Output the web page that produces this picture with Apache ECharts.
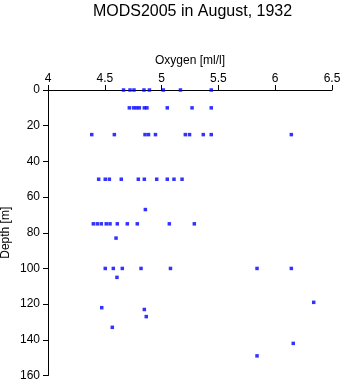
<!DOCTYPE html>
<html>
<head>
<meta charset="utf-8">
<script src="https://cdn.jsdelivr.net/npm/echarts@6/dist/echarts.min.js"></script>
<style>
  html, body { margin: 0; padding: 0; background: #fff; }
  #chart { width: 343px; height: 384px; }
</style>
</head>
<body>
<div id="chart"></div>
<script>
// Oxygen profile samples: each measurement is (oxygen [ml/l], depth [m])
const oxygen = [
  // 0 m
  4.665, 4.722, 4.757, 4.845, 4.893, 5.015, 5.166, 5.437,
  // 10 m
  4.716, 4.753, 4.779, 4.804, 4.848, 4.871, 5.050, 5.268, 5.437,
  // 25 m
  4.385, 4.584, 4.854, 4.885, 4.946, 5.209, 5.246, 5.367, 5.437, 6.142,
  // 50 m
  4.446, 4.504, 4.540, 4.645, 4.795, 4.848, 4.957, 5.050, 5.109, 5.180,
  // 67 m
  4.857,
  // 75 m
  4.399, 4.434, 4.469, 4.513, 4.546, 4.610, 4.698, 4.786, 5.068, 5.288,
  // 83 m
  4.599,
  // 100 m
  4.504, 4.575, 4.654, 4.819, 5.078, 5.840, 6.142,
  // deeper casts
  4.607, 4.473, 4.566, 4.848, 4.865, 5.840, 6.159, 6.339
];
const depth = [
  0, 0, 0, 0, 0, 0, 0, 0,
  10, 10, 10, 10, 10, 10, 10, 10, 10,
  25, 25, 25, 25, 25, 25, 25, 25, 25, 25,
  50, 50, 50, 50, 50, 50, 50, 50, 50, 50,
  67,
  75, 75, 75, 75, 75, 75, 75, 75, 75, 75,
  83,
  100, 100, 100, 100, 100, 100, 100,
  105, 122, 133, 123, 127, 149, 142, 119
];

const xTicks = { min: 4, max: 6.5, step: 0.5 };
const yTicks = { min: 0, max: 160, step: 20 };

const points = oxygen.map((v, i) => [v, depth[i]]);

const font = 'Liberation Sans, Arial, sans-serif';
const chart = echarts.init(document.getElementById('chart'), null, { renderer: 'canvas' });
chart.setOption({
  animation: false,
  backgroundColor: '#ffffff',
  title: {
    text: 'MODS2005 in August, 1932',
    left: 187.5,
    textAlign: 'center',
    top: -1,
    textStyle: { fontFamily: font, fontSize: 16, fontWeight: 'normal', color: '#000' }
  },
  grid: { left: 48, top: 90, width: 284, height: 285.5, outerBoundsMode: 'none', containLabel: false },
  xAxis: {
    type: 'value',
    position: 'top',
    min: xTicks.min,
    max: xTicks.max,
    interval: xTicks.step,
    name: 'Oxygen [ml/l]',
    nameLocation: 'middle',
    nameGap: 23,
    nameMoveOverlap: false,
    nameTextStyle: { fontFamily: font, fontSize: 12, color: '#000' },
    axisLine: { show: true, onZero: false, lineStyle: { color: '#000', width: 1 } },
    axisTick: { show: true, length: 5, lineStyle: { color: '#000' } },
    axisLabel: { fontFamily: font, fontSize: 12, color: '#000', margin: 5 },
    splitLine: { show: false }
  },
  yAxis: {
    type: 'value',
    inverse: true,
    min: yTicks.min,
    max: yTicks.max,
    interval: yTicks.step,
    name: 'Depth [m]',
    nameLocation: 'middle',
    nameGap: 36,
    nameMoveOverlap: false,
    nameTextStyle: { fontFamily: font, fontSize: 12, color: '#000' },
    axisLine: { show: true, onZero: false, lineStyle: { color: '#000', width: 1 } },
    axisTick: { show: true, length: 5, lineStyle: { color: '#000' } },
    axisLabel: { fontFamily: font, fontSize: 12, color: '#000', margin: 8 },
    splitLine: { show: false }
  },
  series: [{
    type: 'scatter',
    data: points,
    symbol: 'rect',
    symbolSize: 3.5,
    itemStyle: { color: '#0000ff' }
  }]
});
</script>
</body>
</html>
